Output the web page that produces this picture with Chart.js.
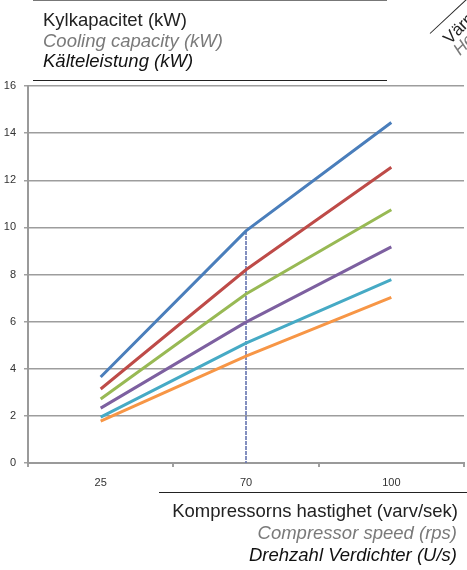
<!DOCTYPE html>
<html>
<head>
<meta charset="utf-8">
<script src="https://cdn.jsdelivr.net/npm/chart.js@4.4.0/dist/chart.umd.min.js"></script>
<style>
  html, body { margin: 0; padding: 0; background: #fff; }
  body { width: 467px; height: 570px; position: relative; overflow: hidden; font-family: "Liberation Sans", Arial, sans-serif; }
  #wrap { position: absolute; left: 0; top: 0; width: 467px; height: 570px; }
  .t { position: absolute; font-size: 18.5px; white-space: nowrap; line-height: 1; }
  .gray { color: #7a7a7a; font-style: italic; }
  .it { color: #111; font-style: italic; }
  .rule { position: absolute; height: 1px; background: #222; }
  .corner { position: absolute; font-size: 17px; line-height: 1; white-space: nowrap; transform-origin: left bottom; transform: rotate(-45deg); }
</style>
</head>
<body>
<div id="wrap"><canvas id="myChart" width="467" height="570"></canvas></div>

<div class="rule" style="left:33px; top:0px; width:354px; background:#777;"></div>
<div class="t" style="left:43px; top:11px; color:#222;">Kylkapacitet (kW)</div>
<div class="t gray" style="left:43px; top:32px;">Cooling capacity (kW)</div>
<div class="t it" style="left:43px; top:52px;">Kälteleistung (kW)</div>
<div class="rule" style="left:33px; top:80px; width:354px;"></div>

<div class="rule" style="left:430px; top:33px; width:52px; transform:rotate(-43deg); transform-origin:left center;"></div>
<div class="corner" style="left:452px; top:30px; color:#222;">Värme</div>
<div class="corner gray" style="left:462px; top:41px;">Heating</div>

<div class="rule" style="left:159px; top:492px; width:308px;"></div>
<div class="t" style="right:9px; top:502px; color:#222;">Kompressorns hastighet (varv/sek)</div>
<div class="t gray" style="right:10px; top:524px;">Compressor speed (rps)</div>
<div class="t it" style="right:10px; top:546px;">Drehzahl Verdichter (U/s)</div>

<script>
// compressor speeds and cooling capacity per curve
const speeds = ['25', '70', '100']
const yTicks = [0, 2, 4, 6, 8, 10, 12, 14, 16]
const blueVals = [3.65, 9.85, 14.45]
const redVals = [3.14, 8.2, 12.55]
const greenVals = [2.72, 7.17, 10.75]
const purpleVals = [2.33, 5.98, 9.17]
const cyanVals = [1.95, 5.09, 7.78]
const orangeVals = [1.78, 4.54, 7.03]

// marker line at the nominal speed (70), from the top curve down to 0
const markSpeed = '70'
const markTop = blueVals[speeds.indexOf(markSpeed)]

const tickFont = { family: 'Liberation Sans', size: 11 }

function curve(vals, color) {
  return {
    data: vals,
    borderColor: color,
    borderWidth: 3,
    pointRadius: 0,
    tension: 0,
    fill: false
  }
}

const ctx = document.getElementById('myChart')
const myChart = new Chart(ctx, {
  type: 'line',
  data: {
    labels: speeds,
    datasets: [
      curve(blueVals, '#4a7ebb'),
      curve(redVals, '#be4b48'),
      curve(greenVals, '#98b954'),
      curve(purpleVals, '#7d60a0'),
      curve(cyanVals, '#46aac5'),
      curve(orangeVals, '#f79646'),
      {
        data: [{ x: markSpeed, y: markTop }, { x: markSpeed, y: 0 }],
        borderColor: 'rgba(100,115,175,0.8)',
        borderWidth: 2,
        borderDash: [4, 1],
        pointRadius: 0,
        fill: false
      }
    ]
  },
  options: {
    responsive: false,
    animation: false,
    layout: { padding: { left: 0, top: 86, right: 3, bottom: 82 } },
    plugins: { legend: { display: false }, tooltip: { enabled: false } },
    scales: {
      x: {
        type: 'category',
        offset: true,
        afterFit: s => { s.height = 25 },
        border: { color: '#9a9a9a', width: 2 },
        grid: {
          offset: true,
          color: c => c.index === speeds.length ? '#a0a0a0' : 'rgba(0,0,0,0)',
          lineWidth: 2,
          tickColor: '#a0a0a0',
          tickLength: 4
        },
        ticks: { color: '#333', font: tickFont, padding: 9 }
      },
      y: {
        min: 0,
        max: 16,
        afterFit: s => { s.width = 28 },
        afterBuildTicks: s => { s.ticks = yTicks.map(v => ({ value: v })) },
        border: { color: '#9a9a9a', width: 2 },
        grid: { color: '#9d9d9d', lineWidth: 1.5, tickColor: '#a0a0a0', tickLength: 4 },
        ticks: { color: '#333', font: tickFont, padding: 8 }
      }
    }
  }
})
</script>
</body>
</html>
